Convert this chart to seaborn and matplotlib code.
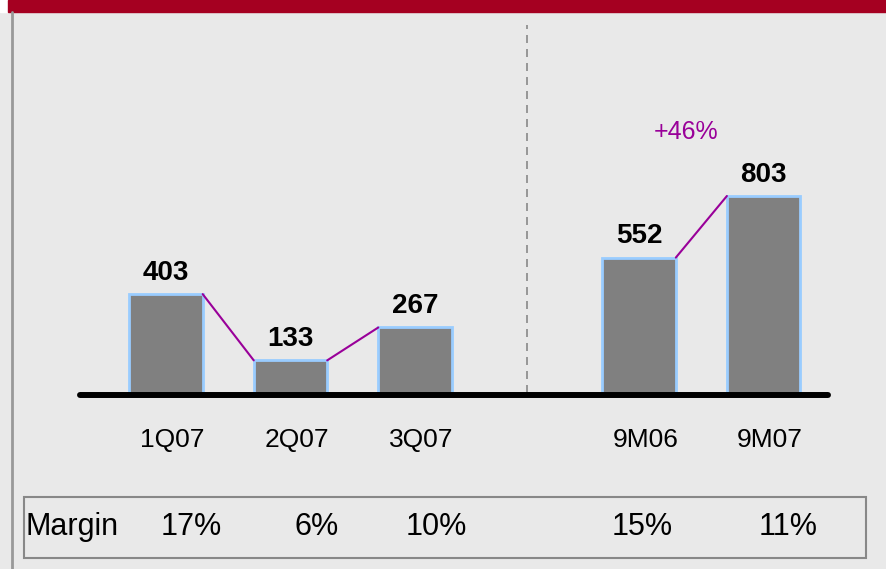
import numpy as np
import pandas as pd
import matplotlib.pyplot as plt
import matplotlib.patches as patches
import seaborn as sns

# data
periods = ['1Q07', '2Q07', '3Q07', '9M06', '9M07']
profit = [403, 133, 267, 552, 803]
margins = ['17%', '6%', '10%', '15%', '11%']
growth_label = '+46%'
margin_title = 'Margin'

# layout: quarters, a gap, then the 9M block
xpos = [0, 1, 2, 3.8, 4.8]
bar_w = 0.59
df = pd.DataFrame({'pos': xpos, 'period': periods, 'profit': profit})

bg = '#e9e9e9'
purple = '#990099'

sns.set_theme(style='white')
plt.rcParams['font.family'] = ['Liberation Sans', 'DejaVu Sans']
plt.rcParams['text.color'] = 'black'

W, H = 886, 569
fig = plt.figure(figsize=(W / 100, H / 100), dpi=100)
fig.patch.set_facecolor(bg)
ax = fig.add_axes([0, 0, 1, 1])

sns.barplot(data=df, x='pos', y='profit', native_scale=True, width=bar_w,
            color='#808080', saturation=1, edgecolor='#99ccff', linewidth=2,
            ax=ax)
ax.set_xlim(-1.333, 5.783)
ax.set_ylim(-717.5, 1602)
ax.axis('off')

# connector lines between bars
for i, j in [(0, 1), (1, 2), (3, 4)]:
    ax.plot([xpos[i] + bar_w / 2, xpos[j] - bar_w / 2], [profit[i], profit[j]],
            color=purple, lw=1.5, zorder=3)

# value labels
for x, v in zip(xpos, profit):
    ax.annotate(str(v), (x, v), xytext=(0, 6), textcoords='offset points',
                ha='center', va='bottom', fontsize=20, fontweight='bold')

# category labels under the axis
for x, p in zip(xpos, periods):
    ax.text(x + 0.05, 1 - 440 / H, p, transform=ax.get_xaxis_transform(),
            ha='center', va='center', fontsize=19)

ax.text(686 / W, 1 - 132 / H, growth_label, transform=ax.transAxes,
        ha='center', va='center', fontsize=18, color=purple)

# baseline
ax.plot([80 / W, 828 / W], [1 - 395 / H] * 2, transform=ax.transAxes,
        color='black', lw=4.3, solid_capstyle='round', zorder=4)

# dashed separator
ax.plot([527 / W] * 2, [1 - 393 / H, 1 - 25 / H], transform=ax.transAxes,
        color='#888888', lw=1.2, dashes=[4.8, 3.6], zorder=1)

# margin row
ax.add_patch(patches.Rectangle((24 / W, 1 - 558 / H), (866 - 24) / W, 61 / H,
                               transform=ax.transAxes, fill=False,
                               edgecolor='#888888', lw=1.5))
ax.text(26 / W, 1 - 527 / H, margin_title, transform=ax.transAxes,
        ha='left', va='center', fontsize=22)
margin_x = [191, 317, 436, 642, 788]
for mx, m in zip(margin_x, margins):
    ax.text(mx / W, 1 - 527 / H, m, transform=ax.transAxes,
            ha='center', va='center', fontsize=22)

# frame bits: red banner, left rule
fig.add_artist(patches.Rectangle((0, 1 - 12 / H), 8 / W, 12 / H,
                                 transform=fig.transFigure, color='white'))
fig.add_artist(patches.Rectangle((8 / W, 1 - 12 / H), 1, 12 / H,
                                 transform=fig.transFigure, color='#a50021'))
fig.add_artist(plt.Line2D([12 / W] * 2, [0, 1 - 12 / H],
                          transform=fig.transFigure, color='#999999', lw=2))

plt.savefig('out.png', dpi=100, facecolor=bg)
